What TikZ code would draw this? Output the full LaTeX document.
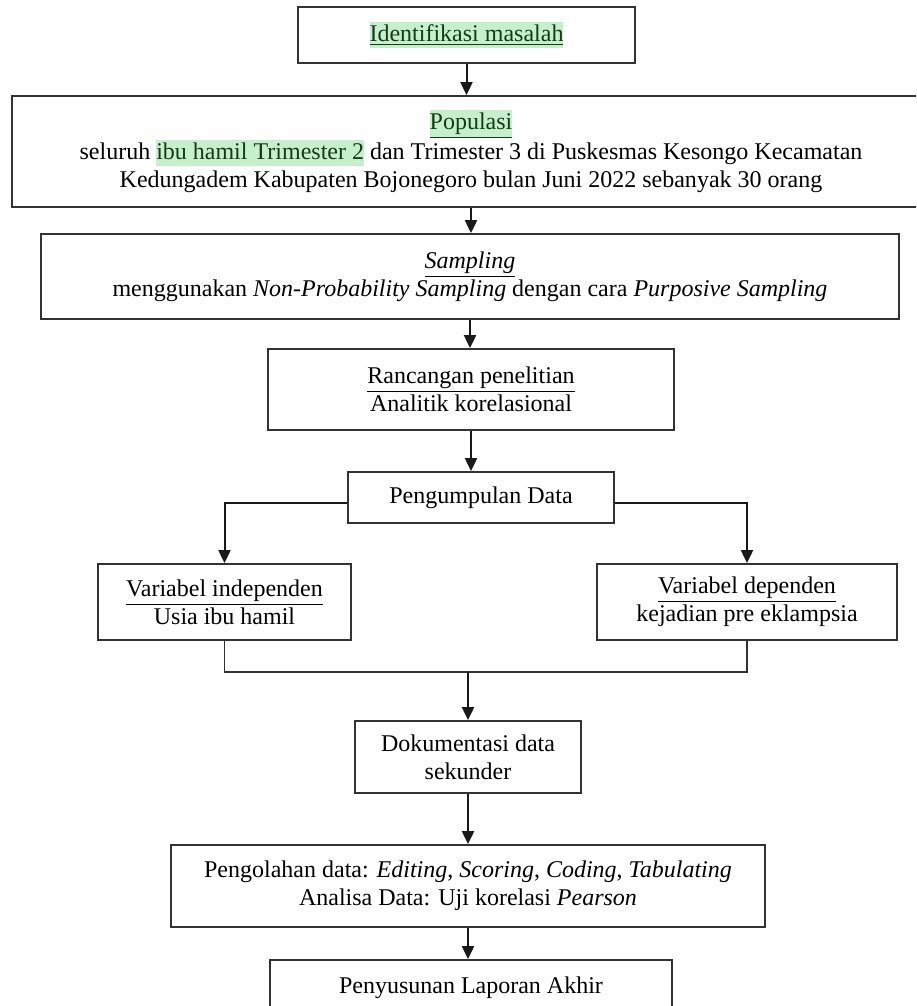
\documentclass[tikz,border=0pt]{standalone}
\usepackage{fontspec}
\setmainfont{Liberation Serif}
\usepackage{tikz}
\usetikzlibrary{arrows.meta}

\definecolor{hlgreen}{RGB}{198,239,206}
\definecolor{hltext}{RGB}{20,60,20}
\newcommand{\hlstrut}{\rule[-3.2pt]{0pt}{12.8pt}}
\newcommand{\hl}[1]{{\setlength{\fboxsep}{0pt}\colorbox{hlgreen}{\hlstrut\textcolor{hltext}{#1}}}}

\begin{document}
\begin{tikzpicture}[x=0.5pt,y=-0.5pt,
    box/.style={draw=black!80, line width=0.9pt, align=center, inner sep=0pt,
      font=\fontsize{12}{14}\selectfont},
    arr/.style={draw=black!90, line width=1pt, -{Triangle[length=6.5pt,width=6pt]}},
    link/.style={draw=black!80, line width=0.9pt}]

        \useasboundingbox (0,0) rectangle (916,1006);
        \clip (0,0) rectangle (916,1006);

        \begin{scope}[every node/.style={box}]
          \node[minimum width=168.5pt, minimum height=28pt] (masalah) at (466.5,35)
            {\hl{\underline{Identifikasi masalah}}};
          \node[minimum width=459pt, minimum height=55.5pt] (populasi) at (471,151.5)
            {\hl{\underline{Populasi}}\\
             seluruh \hl{ibu hamil Trimester 2} dan Trimester 3 di Puskesmas Kesongo Kecamatan\\
             Kedungadem Kabupaten Bojonegoro bulan Juni 2022 sebanyak 30 orang};
          \node[minimum width=429pt, minimum height=42.5pt] (sampling) at (470,276.5)
            {\underline{\textit{Sampling}}\\
             menggunakan \textit{Non-Probability Sampling} dengan cara \textit{Purposive Sampling}};
          \node[minimum width=203pt, minimum height=40.5pt] (rancangan) at (471,389.5)
            {\underline{Rancangan penelitian}\\ Analitik korelasional};
          \node[minimum width=133pt, minimum height=25.5pt] (kumpul) at (481,497.5)
            {Pengumpulan Data};
          \node[minimum width=126.5pt, minimum height=38pt] (indep) at (224.5,602)
            {\underline{Variabel independen}\\ Usia ibu hamil};
          \node[minimum width=150pt, minimum height=38pt] (dep) at (747,602)
            {\underline{Variabel dependen}\\ kejadian pre eklampsia};
          \node[minimum width=113pt, minimum height=36pt] (dokumen) at (468,757)
            {Dokumentasi data\\ sekunder};
          \node[minimum width=297pt, minimum height=41pt] (olah) at (468,886)
            {Pengolahan data: \textit{Editing}, \textit{Scoring}, \textit{Coding}, \textit{Tabulating}\\
             Analisa Data: Uji korelasi \textit{Pearson}};
          \node[minimum width=201pt, minimum height=28pt] (laporan) at (471,988)
            {Penyusunan Laporan Akhir};
        \end{scope}

        \coordinate (gabung) at (468,672);

        \path[arr] (masalah.south) -- (masalah.south |- populasi.north);
        \path[arr] (populasi.south) -- (populasi.south |- sampling.north);
        \path[arr] (sampling.south) -- (sampling.south |- rancangan.north);
        \path[arr] (rancangan.south) -- (rancangan.south |- kumpul.north);
        \path[arr] ([yshift=-2.75pt]kumpul.west) -| (indep.north);
        \path[arr] ([yshift=-2.75pt]kumpul.east) -| (dep.north);
        \path[link] (indep.south) |- (gabung) -| (dep.south);
        \path[arr] (gabung) -- (dokumen.north);
        \path[arr] (dokumen.south) -- (dokumen.south |- olah.north);
        \path[arr] (olah.south) -- (olah.south |- laporan.north);

      \end{tikzpicture}
\end{document}
